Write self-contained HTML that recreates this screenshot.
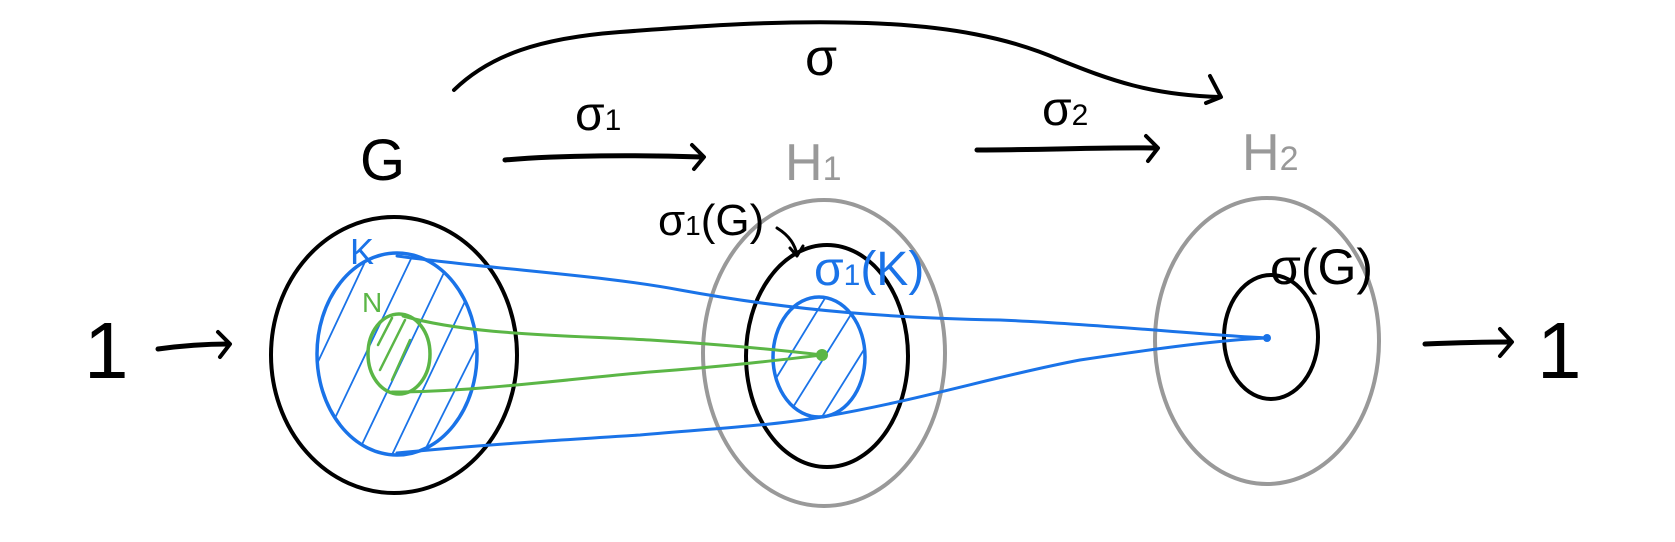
<!DOCTYPE html>
<html><head><style>
html,body{margin:0;padding:0;background:#fff;}
svg{display:block;}
text{font-family:"Liberation Sans",sans-serif;}
</style></head><body>
<svg width="1675" height="542" viewBox="0 0 1675 542" xmlns="http://www.w3.org/2000/svg">
<defs>
<clipPath id="ck"><ellipse cx="397" cy="354" rx="80" ry="101"/></clipPath>
<clipPath id="ck2"><ellipse cx="819" cy="357" rx="46" ry="60"/></clipPath>
</defs>
<g fill="none" stroke-linecap="round" stroke-linejoin="round">
<!-- top arc sigma -->
<path d="M454 90 C490 55 540 38 620 32 C700 26 780 20 867 23 C950 26 1010 38 1060 60 C1110 80 1150 95 1220 97" stroke="#000" stroke-width="4"/>
<path d="M1210 76 L1221 97 L1206 103" stroke="#000" stroke-width="4"/>
<!-- sigma1 arrow -->
<path d="M505 160 C560 155 640 155 702 157" stroke="#000" stroke-width="5"/>
<path d="M692 145 L704 157 L694 169" stroke="#000" stroke-width="4"/>
<!-- sigma2 arrow -->
<path d="M977 150 C1040 150 1110 147 1155 148" stroke="#000" stroke-width="5"/>
<path d="M1146 136 L1158 148 L1148 161" stroke="#000" stroke-width="4"/>
<!-- left arrow -->
<path d="M158 349 C180 346 205 344 228 344" stroke="#000" stroke-width="5"/>
<path d="M218 332 L230 344 L220 357" stroke="#000" stroke-width="4"/>
<!-- right arrow -->
<path d="M1425 344 C1450 343 1480 342 1510 342" stroke="#000" stroke-width="5"/>
<path d="M1500 329 L1512 342 L1500 356" stroke="#000" stroke-width="4"/>
<!-- G outer -->
<ellipse cx="394" cy="355" rx="123" ry="138" stroke="#000" stroke-width="4"/>
<!-- hatching K -->
<g clip-path="url(#ck)" stroke="#1a73e8" stroke-width="1.8">
<path d="M300 400 L380 230"/><path d="M315 460 L420 240"/><path d="M345 480 L450 260"/><path d="M380 480 L480 270"/><path d="M410 480 L500 300"/>
</g>
<ellipse cx="397" cy="354" rx="80" ry="101" stroke="#1a73e8" stroke-width="3.5"/>
<!-- N -->
<g clip-path="url(#ck)" stroke="#5bb646" stroke-width="2.5">
<path d="M378 345 L392 318"/><path d="M380 370 L405 320"/><path d="M392 380 L410 340"/>
</g>
<ellipse cx="399" cy="354" rx="31" ry="40" stroke="#5bb646" stroke-width="3.5"/>
<!-- H1 -->
<ellipse cx="824" cy="353" rx="121" ry="153" stroke="#999" stroke-width="4"/>
<ellipse cx="827" cy="356" rx="81" ry="111" stroke="#000" stroke-width="4"/>
<g clip-path="url(#ck2)" stroke="#1a73e8" stroke-width="1.8">
<path d="M775 380 L830 290"/><path d="M785 420 L860 300"/><path d="M820 420 L870 340"/>
</g>
<ellipse cx="819" cy="357" rx="46" ry="60" stroke="#1a73e8" stroke-width="3.5"/>
<!-- H2 -->
<ellipse cx="1267" cy="341" rx="112" ry="143" stroke="#999" stroke-width="4"/>
<ellipse cx="1271" cy="337" rx="47" ry="62" stroke="#000" stroke-width="4"/>
<!-- blue connecting lines -->
<path d="M397 256 C500 270 600 275 680 290 C800 312 900 318 1000 320 C1100 324 1200 335 1267 338" stroke="#1a73e8" stroke-width="3"/>
<path d="M397 453 C480 445 560 440 640 435 C720 428 780 425 827 416 C920 400 1000 375 1080 360 C1160 348 1220 340 1267 338" stroke="#1a73e8" stroke-width="3"/>
<!-- green lines -->
<path d="M403 316 C470 335 560 335 650 340 C730 345 780 350 822 355" stroke="#5bb646" stroke-width="3"/>
<path d="M392 392 C470 392 560 380 650 372 C730 366 780 360 822 355" stroke="#5bb646" stroke-width="3"/>
<!-- sigma1(G) pointer -->
<path d="M777 228 C790 236 795 245 797 255" stroke="#000" stroke-width="3"/>
<path d="M790 248 L797 256 L803 246" stroke="#000" stroke-width="3"/>
</g>
<circle cx="822" cy="355" r="6" fill="#5bb646"/>
<circle cx="1267" cy="338" r="4" fill="#1a73e8"/>
<!-- labels -->
<text x="84" y="378" font-size="80" fill="#000">1</text>
<text x="1537" y="378" font-size="80" fill="#000">1</text>
<text x="360" y="180" font-size="58" fill="#000">G</text>
<text x="785" y="180" font-size="52" fill="#999">H<tspan font-size="34">1</tspan></text>
<text x="1242" y="170" font-size="52" fill="#999">H<tspan font-size="34">2</tspan></text>
<text x="805" y="75" font-size="52" fill="#000">σ</text>
<text x="575" y="130" font-size="48" fill="#000">σ<tspan font-size="30">1</tspan></text>
<text x="1042" y="125" font-size="48" fill="#000">σ<tspan font-size="30">2</tspan></text>
<text x="658" y="235" font-size="44" fill="#000">σ<tspan font-size="28">1</tspan>(G)</text>
<text x="814" y="285" font-size="48" fill="#1a73e8">σ<tspan font-size="30">1</tspan>(K)</text>
<text x="1270" y="284" font-size="50" fill="#000">σ(G)</text>
<text x="350" y="264" font-size="36" fill="#1a73e8">K</text>
<text x="362" y="312" font-size="28" fill="#5bb646">N</text>
</svg>
</body></html>
